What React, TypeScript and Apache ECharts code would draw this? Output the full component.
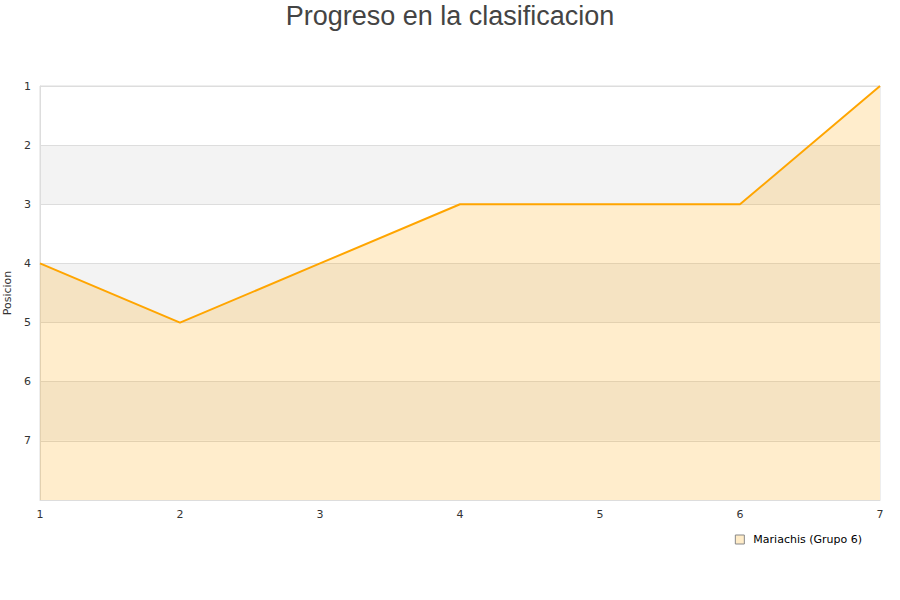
import React, { useEffect, useRef } from "react";
import * as echarts from "echarts";

const jornadas = ["1", "2", "3", "4", "5", "6", "7"];
const posiciones = [4, 5, 4, 3, 3, 3, 1];
const seriesName = "Mariachis (Grupo 6)";
const titleText = "Progreso en la clasificacion";

export default function App() {
  const ref = useRef<HTMLDivElement>(null);
  useEffect(() => {
    if (!ref.current) return;
    const chart = echarts.init(ref.current, undefined, { renderer: "svg" });
    chart.setOption({
      animation: false,
      title: {
        text: titleText,
        left: "center",
        top: -3,
        textStyle: { fontFamily: "Liberation Sans", fontSize: 27, fontWeight: "normal", color: "#444" },
      },
      grid: {
        left: 40,
        right: 20,
        top: 86,
        bottom: 100,
        show: true,
        borderColor: "#ddd",
        borderWidth: 1,
        containLabel: false,
        outerBoundsMode: "none",
      },
      legend: {
        data: [{ name: seriesName, icon: "rect", itemStyle: { color: "#ffecc8", borderColor: "#888", borderWidth: 1 } }],
        right: 33,
        top: 529,
        itemWidth: 9,
        itemHeight: 9,
        itemGap: 10,
        textStyle: { fontFamily: "DejaVu Sans", fontSize: 11, color: "#000", padding: [0, 0, 0, 4] },
      },
      xAxis: {
        type: "category",
        data: jornadas,
        boundaryGap: false,
        axisLine: { lineStyle: { color: "#ddd" } },
        axisTick: { show: false },
        axisLabel: { fontFamily: "DejaVu Sans", fontSize: 11, color: "#333", margin: 9 },
        splitLine: { show: false },
      },
      yAxis: {
        type: "value",
        inverse: true,
        min: 1,
        max: 8,
        interval: 1,
        name: "Posicion",
        nameLocation: "middle",
        nameGap: 21,
        nameTextStyle: { fontFamily: "DejaVu Sans", fontSize: 11, color: "#333" },
        axisLine: { show: true, lineStyle: { color: "#ddd" } },
        axisTick: { show: false },
        axisLabel: {
          fontFamily: "DejaVu Sans",
          fontSize: 11,
          color: "#333",
          margin: 9,
          formatter: (v: number) => (v === 8 ? "" : String(v)),
        },
        splitLine: { show: true, lineStyle: { color: "#ddd" } },
        splitArea: { show: true, areaStyle: { color: ["#ffffff", "#f3f3f3"] } },
      },
      series: [
        {
          name: seriesName,
          type: "line",
          data: posiciones,
          symbol: "none",
          lineStyle: { color: "#ffa500", width: 2 },
          itemStyle: { color: "#ffa500" },
          areaStyle: { color: "rgba(255,165,0,0.2)", opacity: 1, origin: "end" },
        },
      ],
    });
    return () => chart.dispose();
  }, []);
  return <div ref={ref} style={{ width: 900, height: 600, position: "absolute", left: 0, top: 0 }} />;
}
